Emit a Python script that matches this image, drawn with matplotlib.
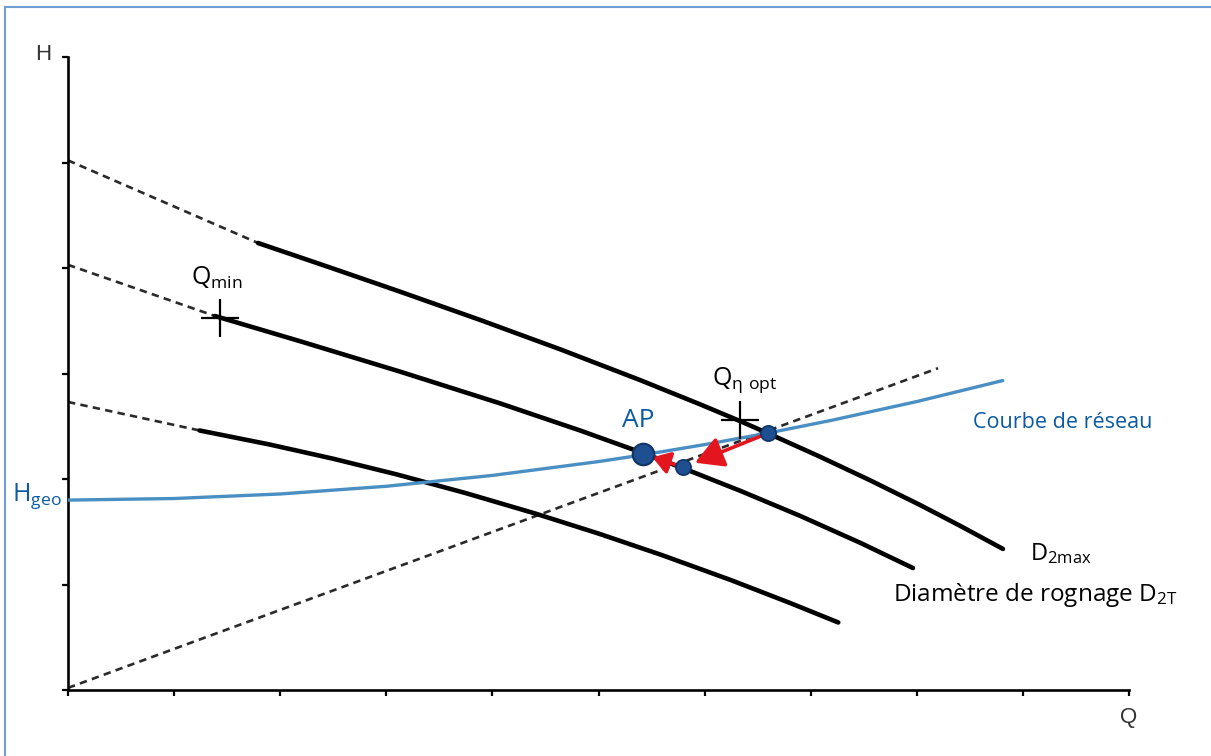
import matplotlib
matplotlib.use("Agg")
import matplotlib.pyplot as plt
from matplotlib.lines import Line2D

plt.rcParams['font.family'] = ['Open Sans', 'DejaVu Sans']
plt.rcParams['mathtext.default'] = 'regular'

# Pump curve, full impeller diameter D2max (Q, H)
d2max_ext_q = [0.0, 1.791]
d2max_ext_h = [5.02, 4.237]
d2max_q = [1.791, 2.469, 3.129, 3.883, 4.637, 5.391, 5.957, 6.334, 6.598,
           7.088, 7.559, 8.030, 8.407, 8.812]
d2max_h = [4.237, 4.005, 3.776, 3.508, 3.230, 2.938, 2.708, 2.549, 2.433,
           2.211, 1.988, 1.754, 1.557, 1.337]

# Pump curve, trimmed impeller diameter D2T
d2t_ext_q = [0.0, 1.385]
d2t_ext_h = [4.03, 3.545]
d2t_q = [1.385, 2.187, 3.129, 4.072, 4.826, 5.391, 5.796, 6.334, 6.899, 7.465, 7.964]
d2t_h = [3.545, 3.306, 3.018, 2.717, 2.460, 2.256, 2.103, 1.889, 1.651, 1.396, 1.156]

# Lower pump curve
low_ext_q = [0.0, 1.24]
low_ext_h = [2.73, 2.46]
low_q = [1.24, 1.90, 2.50, 3.10, 3.75, 4.40, 5.00, 5.60, 6.25, 6.80, 7.26]
low_h = [2.460, 2.327, 2.192, 2.043, 1.866, 1.674, 1.483, 1.278, 1.041, 0.827, 0.640]

# System curve (network) starting at static head H_geo
net_q = [0.0, 1.0, 2.0, 3.0, 4.0, 5.0, 5.42, 6.0, 6.6, 7.2, 8.0, 8.81]
net_h = [1.800, 1.815, 1.858, 1.931, 2.034, 2.165, 2.229, 2.326, 2.436, 2.557,
         2.734, 2.933]

# Line through origin and the trimmed operating point
orig_q = [0.0, 8.20]
orig_h = [0.02, 3.05]

# Operating points: AP, trimmed point, full-diameter point
ap = (5.42, 2.235)
pt_trim = (5.80, 2.11)
pt_full = (6.60, 2.435)

# Markers for Q_min and Q_eta_opt
qmin_mark = (1.43, 3.53)
qopt_mark = (6.33, 2.56)

x_ticks = list(range(0, 11))
y_ticks = list(range(0, 7))

blue_txt = '#0b5aa2'
blue_line = '#4a8fc3'
red = '#e3151f'
dot_fill = '#1d4f91'
dot_edge = '#0f3468'

fig = plt.figure(figsize=(12.11, 7.56), dpi=100)
ax = fig.add_axes([68 / 1211, 1 - 690 / 756, (1129 - 68) / 1211, (690 - 57) / 756])

dash = dict(color='#2a2a2a', lw=1.9, ls=(0, (2.8, 2.0)))
ax.plot(d2max_ext_q, d2max_ext_h, **dash)
ax.plot(d2t_ext_q, d2t_ext_h, **dash)
ax.plot(low_ext_q, low_ext_h, **dash)
ax.plot(orig_q, orig_h, **dash)

solid = dict(color='black', lw=3.3, solid_capstyle='round', solid_joinstyle='round')
ax.plot(d2max_q, d2max_h, **solid)
ax.plot(d2t_q, d2t_h, **solid)
ax.plot(low_q, low_h, **solid)

ax.plot(net_q, net_h, color=blue_line, lw=2.4, solid_capstyle='round',
        solid_joinstyle='round', zorder=4)

# Q markers
ax.plot(*qmin_mark, marker='+', ms=28, mew=1.6, color='black', zorder=5)
ax.plot(*qopt_mark, marker='+', ms=27, mew=1.6, color='black', zorder=5)

# Arrows between operating points
ax.annotate('', xy=pt_trim, xytext=pt_full,
            arrowprops=dict(arrowstyle='-|>,head_length=0.9,head_width=0.5', color=red,
                            lw=2.6, shrinkA=6, shrinkB=9, mutation_scale=19), zorder=6)
ax.annotate('', xy=ap, xytext=pt_trim,
            arrowprops=dict(arrowstyle='-|>,head_length=0.7,head_width=0.45', color=red,
                            lw=2.6, shrinkA=5, shrinkB=7, mutation_scale=15), zorder=6)

ax.plot(*ap, marker='o', ms=15.5, mfc=dot_fill, mec=dot_edge, mew=1.5, zorder=7)
ax.plot(*pt_trim, marker='o', ms=11, mfc=dot_fill, mec=dot_edge, mew=1.2, zorder=7)
ax.plot(*pt_full, marker='o', ms=11, mfc=dot_fill, mec=dot_edge, mew=1.2, zorder=7)

# Labels
ax.text(1.40, 3.91, r'$\mathregular{Q_{min}}$', fontsize=18, ha='center', va='center')
ax.text(6.38, 2.94, r'$\mathregular{Q_{\eta\ opt}}$', fontsize=18, ha='center', va='center')
ax.text(5.37, 2.55, 'AP', fontsize=19, color=blue_txt, ha='center', va='center')
ax.text(8.53, 2.54, 'Courbe de réseau', fontsize=15.5, color=blue_txt, ha='left', va='center')
ax.text(-0.06, 1.84, r'$\mathregular{H_{geo}}$', fontsize=18, color=blue_txt,
        ha='right', va='center', clip_on=False)
ax.text(9.07, 1.29, r'$\mathregular{D_{2max}}$', fontsize=17, ha='left', va='center')
ax.text(7.78, 0.90, r'Diamètre de rognage $\mathregular{D_{2T}}$', fontsize=17.5,
        ha='left', va='center')
ax.text(-0.23, 6.02, 'H', fontsize=16, color='#333333', family='Liberation Sans',
        ha='center', va='center', clip_on=False)
ax.text(10.0, -0.26, 'Q', fontsize=16, color='#333333', family='Liberation Sans',
        ha='center', va='center', clip_on=False)

ax.set_xlim(0, 10)
ax.set_ylim(0, 6)
ax.set_xticks(x_ticks)
ax.set_yticks(y_ticks)
ax.set_xticklabels([])
ax.set_yticklabels([])
ax.tick_params(direction='out', length=4, width=1.6, color='black')
for side in ('top', 'right'):
    ax.spines[side].set_visible(False)
for side in ('left', 'bottom'):
    ax.spines[side].set_linewidth(1.9)
    ax.spines[side].set_color('black')
ax.set_facecolor('none')

# Thin blue frame along the left and top edges
frame = '#6f9fd2'
fig.add_artist(Line2D([5 / 1211, 5 / 1211], [0, 1 - 7 / 756], color=frame, lw=1.5,
                      transform=fig.transFigure))
fig.add_artist(Line2D([5 / 1211, 1], [1 - 7 / 756, 1 - 7 / 756], color=frame, lw=1.5,
                      transform=fig.transFigure))

fig.savefig('out.png', dpi=100)
